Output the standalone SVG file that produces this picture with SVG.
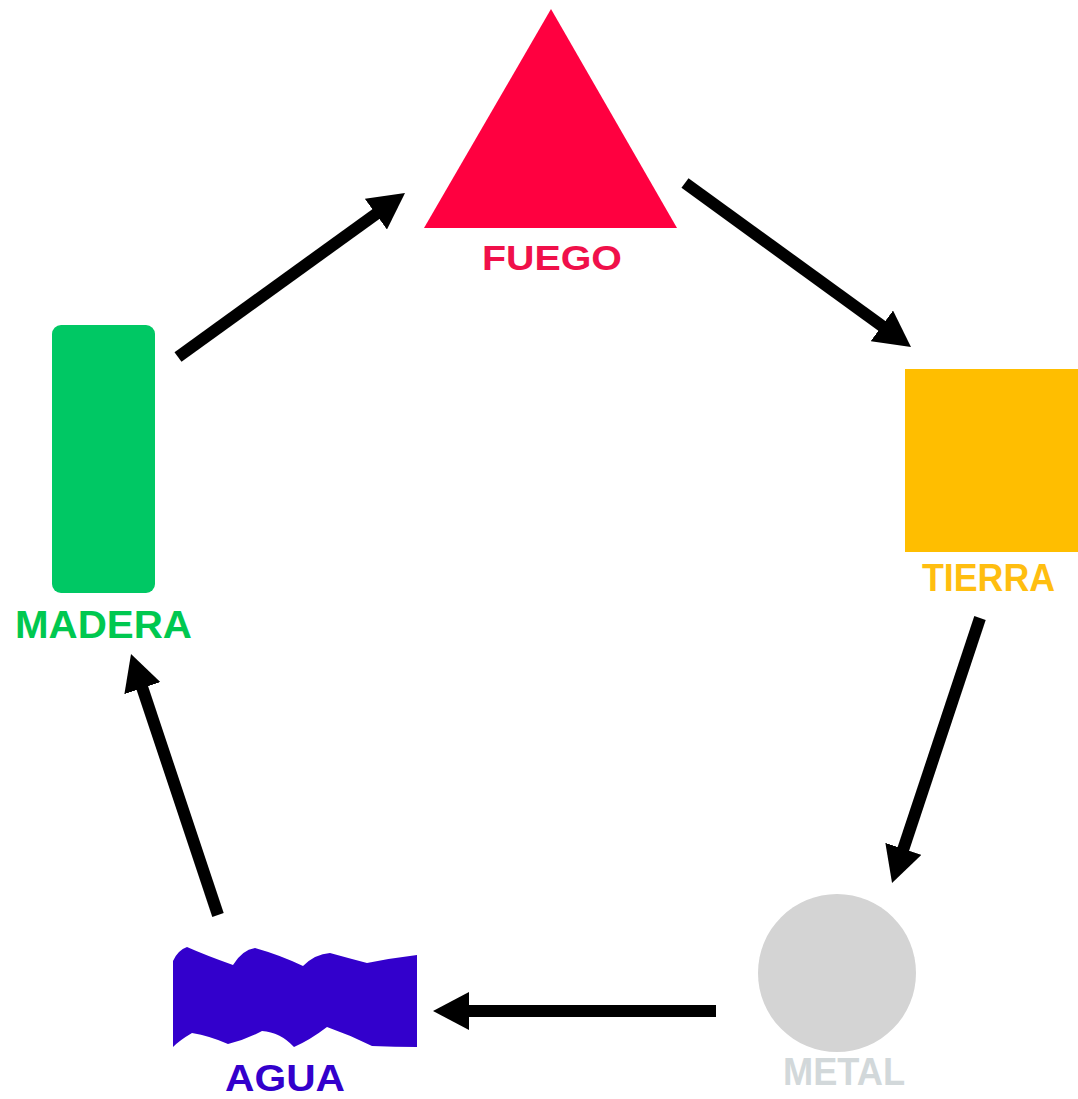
<svg xmlns="http://www.w3.org/2000/svg" width="1078" height="1099" viewBox="0 0 1078 1099">
  <style>
    .lbl { font-family: "Liberation Sans", Arial, sans-serif; font-weight: bold; text-anchor: middle; }
    .conn { stroke: #000; stroke-width: 12; fill: none; }
  </style>
  <defs>
    <marker id="ah" viewBox="0 0 36 38" refX="6" refY="19" markerWidth="36" markerHeight="38" markerUnits="userSpaceOnUse" orient="auto">
      <path d="M0,0 L36,19 L0,38 Z" fill="#000"/>
    </marker>
  </defs>
  <rect width="1078" height="1099" fill="#fff"/>

  <g id="fuego">
    <polygon points="551,9 424,228 677,228" fill="#FF0040"/>
    <text class="lbl" x="552" y="270" font-size="35" fill="#F0104A" textLength="140" lengthAdjust="spacingAndGlyphs">FUEGO</text>
  </g>

  <g id="tierra">
    <rect x="905" y="369" width="180" height="183" fill="#FFBE00"/>
    <text class="lbl" x="988.5" y="591" font-size="38" fill="#FFBE10" textLength="133" lengthAdjust="spacingAndGlyphs">TIERRA</text>
  </g>

  <g id="metal">
    <circle cx="837" cy="973" r="79" fill="#D4D4D4"/>
    <text class="lbl" x="844" y="1085" font-size="38" fill="#D2D8DA" textLength="122" lengthAdjust="spacingAndGlyphs">METAL</text>
  </g>

  <g id="agua">
    <path d="M173,961 Q178,950 187,947 Q205,955 233,965 Q242,950 255,948 Q280,955 303,966 Q315,954 330,953 Q348,958 367,963 Q392,958 417,955 L417,1047 Q395,1047 372,1046 Q350,1035 327,1027 Q310,1040 294,1047 Q280,1032 262,1031 Q245,1040 228,1044 Q210,1036 192,1033 Q180,1040 173,1047 Z" fill="#3300CC"/>
    <text class="lbl" x="285" y="1091" font-size="36" fill="#3300CC" textLength="120" lengthAdjust="spacingAndGlyphs">AGUA</text>
  </g>

  <g id="madera">
    <rect x="52" y="325" width="103" height="268" rx="9" ry="9" fill="#00C864"/>
    <text class="lbl" x="103.5" y="638" font-size="38" fill="#00C850" textLength="177" lengthAdjust="spacingAndGlyphs">MADERA</text>
  </g>

  <g id="connectors">
    <line class="conn" x1="178" y1="357" x2="380.7" y2="210.6" marker-end="url(#ah)"/>
    <line class="conn" x1="685" y1="183" x2="886.7" y2="329.4" marker-end="url(#ah)"/>
    <line class="conn" x1="980" y1="618" x2="901.5" y2="854.5" marker-end="url(#ah)"/>
    <line class="conn" x1="716" y1="1011" x2="463" y2="1011" marker-end="url(#ah)"/>
    <line class="conn" x1="218" y1="915" x2="140.5" y2="682.5" marker-end="url(#ah)"/>
  </g>
</svg>
